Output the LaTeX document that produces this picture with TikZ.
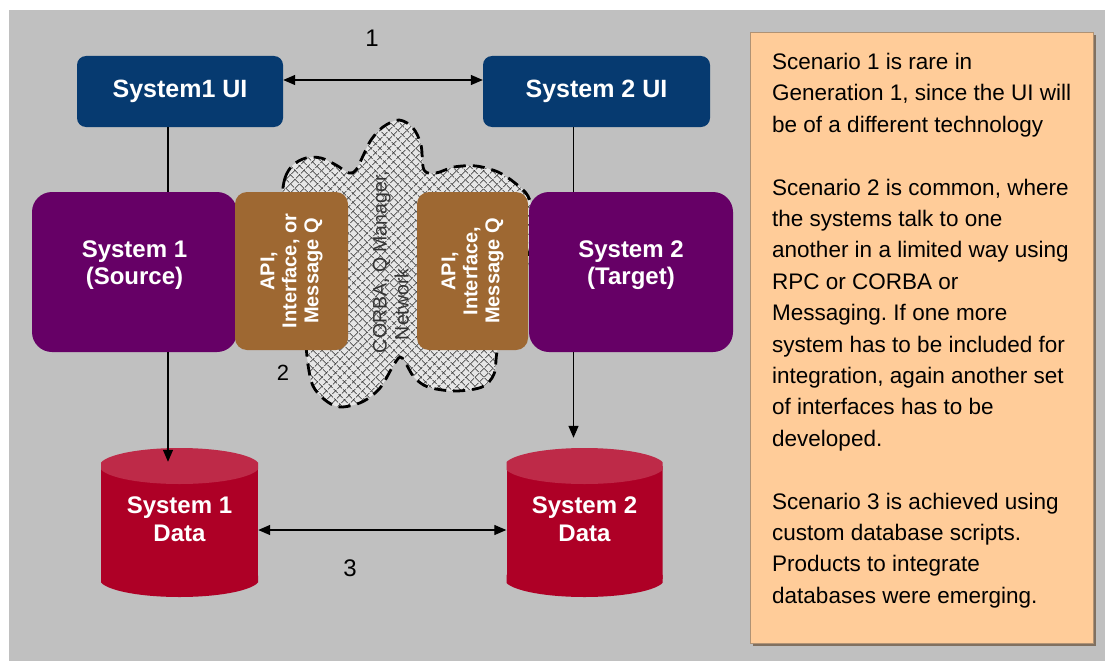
\documentclass[tikz,border=0pt]{standalone}
\usepackage{fontspec}
\setmainfont{Liberation Sans}
\usetikzlibrary{arrows.meta,patterns.meta,shadows}
\frenchspacing

\definecolor{slide}{RGB}{192,192,192}
\definecolor{uiblue}{RGB}{6,58,112}
\definecolor{sysviolet}{RGB}{102,0,102}
\definecolor{apibrown}{RGB}{158,104,50}
\definecolor{dbbody}{RGB}{174,0,38}
\definecolor{dbtop}{RGB}{190,42,72}
\definecolor{notefill}{RGB}{255,204,153}
\definecolor{noteedge}{RGB}{176,146,116}
\definecolor{noteshade}{RGB}{128,112,96}
\definecolor{cloudbg}{RGB}{230,230,230}
\definecolor{hatch}{RGB}{45,45,45}

\tikzset{
  uibox/.style={fill=uiblue, rounded corners=9pt, minimum height=71pt, inner sep=0pt,
    text=white, font=\fontsize{25}{28}\selectfont\bfseries},
  sysbox/.style={fill=sysviolet, rounded corners=20pt, minimum width=205pt, minimum height=160pt,
    inner sep=0pt, text depth=18pt, text=white, align=center,
    font=\fontsize{24}{27}\selectfont\bfseries},
  apibox/.style={fill=apibrown, rounded corners=12pt, rotate=90, minimum width=158pt,
    inner sep=0pt, text=white, align=center, font=\fontsize{20}{22}\selectfont\bfseries},
  dbnode/.style={minimum height=149pt, inner sep=0pt, text depth=6pt, text=white, align=center,
    font=\fontsize{24}{28}\selectfont\bfseries,
    path picture={
      \fill[dbbody] ([yshift=-18pt]path picture bounding box.north west)
        rectangle ([yshift=18pt]path picture bounding box.south east);
      \fill[dbbody] ([yshift=18pt]path picture bounding box.south)
        ellipse[x radius=80pt, y radius=18pt];
      \fill[dbtop] ([yshift=-18pt]path picture bounding box.north)
        ellipse[x radius=80pt, y radius=18pt];
    }},
  numlabel/.style={inner sep=0pt, font=\fontsize{24}{26}\selectfont},
  conn/.style={line width=1.3pt, draw=black},
  arr/.style={conn, -{Triangle[length=12pt,width=10pt]}},
  darr/.style={conn, {Triangle[length=12pt,width=10pt]}-{Triangle[length=12pt,width=10pt]}},
  notebox/.style={fill=notefill, draw=noteedge, line width=0.8pt, minimum width=343pt,
    minimum height=611pt, inner sep=0pt,
    drop shadow={shadow xshift=3pt, shadow yshift=-3pt, fill=noteshade, opacity=1}},
  cloud area/.style={fill=cloudbg,
    postaction={pattern={Lines[angle=45,distance=6.4pt,line width=0.85pt]}, pattern color=hatch},
    postaction={pattern={Lines[angle=-45,distance=6.4pt,line width=0.85pt]}, pattern color=hatch},
    postaction={draw=black, line width=2.8pt, dash pattern=on 12pt off 7pt}}
}

\begin{document}
\begin{tikzpicture}[x=1pt, y=-1pt]
  % page and slide background
  \fill[white] (0,0) rectangle (1105,661);
  \useasboundingbox (0,0) rectangle (1105,661);
  \fill[slide] (9,10) rectangle (1105,661);

  % middleware cloud between the two systems
  \path[cloud area] plot[smooth cycle, tension=0.55] coordinates {
    (282,200) (285,178) (293,165) (306,158) (321,158) (336,165) (349,173)
    (356,170) (363,156) (371,140) (383,127) (399,120) (413,128) (421,145) (424,170)
    (436,173) (454,167) (476,166) (498,172) (515,183) (528,196) (533,216) (532,240)
    (520,290) (504,330) (497,352) (494,374) (482,387) (455,391) (428,387) (414,377)
    (405,362) (400,357) (393,366) (380,388) (362,402) (340,407) (325,400) (313,386)
    (308,365) (304,335) (290,290) (283,240)};
  \node[rotate=90, align=left, inner sep=0pt, text=black!80,
        font=\fontsize{19.5}{22}\selectfont] (cloudlbl) at (391,262)
        {CORBA, Q Manager,\\\hspace*{13pt}Network};

  % user interfaces
  \node[uibox, minimum width=206pt] (s1ui) at (180,91.5) {System1 UI};
  \node[uibox, minimum width=227pt] (s2ui) at (596.5,91.5) {System 2 UI};

  % applications
  \node[sysbox] (sys1) at (134.5,272) {System 1\\(Source)};
  \node[sysbox, minimum width=204pt] (sys2) at (631,272) {System 2\\(Target)};

  % interface layers
  \node[apibox, minimum height=113pt] (api1) at (291.5,271) {API,\\Interface, or\\Message Q};
  \node[apibox, minimum height=111pt] (api2) at (472.5,271) {API,\\Interface,\\Message Q};

  % databases
  \node[dbnode, minimum width=157pt] (db1) at (179.5,522.5) {System 1\\Data};
  \node[dbnode, minimum width=156pt] (db2) at (584.5,522.5) {System 2\\Data};

  % scenario numbers
  \node[numlabel] (lbl1) at (372,38) {1};
  \node[numlabel, font=\fontsize{22}{24}\selectfont] (lbl2) at (283,373) {2};
  \node[numlabel] (lbl3) at (350,568) {3};

  % connectors
  \coordinate (v1) at ([xshift=-12pt]s1ui.south);
  \coordinate (v2) at ([xshift=-23pt]s2ui.south);
  \draw[darr] ([yshift=11.5pt]s1ui.east) -- ([yshift=11.5pt]s2ui.west);
  \draw[conn] (v1) -- (v1 |- sys1.north);
  \draw[conn] (v2) -- (v2 |- sys2.north);
  \draw[arr] (v1 |- sys1.south) -- ([yshift=-14pt]v1 |- db1.north);
  \draw[arr] (v2 |- sys2.south) -- ([yshift=10pt]v2 |- db2.north);
  \draw[darr] ([yshift=-7.5pt]db1.east) -- ([yshift=-7.5pt]db2.west);

  % explanatory note
  \node[notebox] (note) at (921.5,337.5) {};
  \node[anchor=north west, inner sep=0pt, align=left,
        font=\fontsize{22.5}{31.4}\selectfont] (notetext) at (772,53)
    {Scenario 1 is rare in\\
     Generation 1, since the UI will\\
     be of a different technology\\[31.4pt]
     Scenario 2 is common, where\\
     the systems talk to one\\
     another in a limited way using\\
     RPC or CORBA or\\
     Messaging. If one more\\
     system has to be included for\\
     integration, again another set\\
     of interfaces has to be\\
     developed.\\[31.4pt]
     Scenario 3 is achieved using\\
     custom database scripts.\\
     Products to integrate\\
     databases were emerging.};
\end{tikzpicture}
\end{document}
